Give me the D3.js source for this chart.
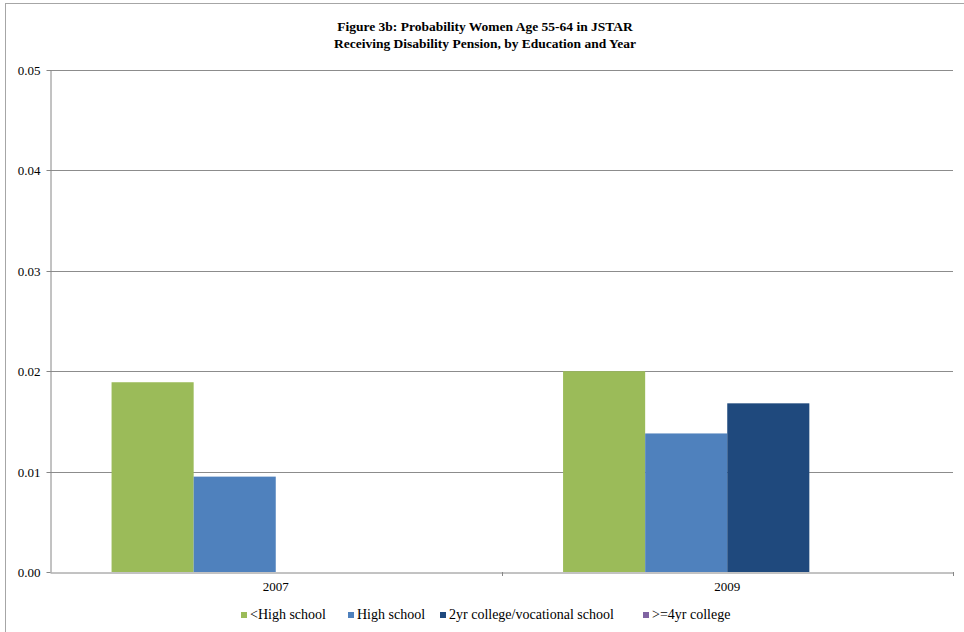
<!DOCTYPE html>
<html>
<head>
<meta charset="utf-8">
<script src="https://cdn.jsdelivr.net/npm/d3@7"></script>
<style>
  body { margin: 0; background: #fff; }
  text { font-family: "Liberation Serif", "Times New Roman", serif; fill: #000; }
</style>
</head>
<body>
<div id="chart"></div>
<script>
// data
const years = ["2007", "2009"];
const seriesNames = ["<High school", "High school", "2yr college/vocational school", ">=4yr college"];
const seriesColors = ["#9bbb59", "#4f81bd", "#1f497d", "#8064a2"];
const lessHighSchool = [0.0189, 0.0200];
const highSchool = [0.0095, 0.0138];
const twoYrCollege = [0, 0.0168];
const fourYrCollege = [0, 0];
const yTicks = [0, 0.01, 0.02, 0.03, 0.04, 0.05];

const svgWidth = 964, svgHeight = 632;
const plotLeft = 50, plotRight = 953, plotTop = 70, plotBottom = 572;

const allSeries = [lessHighSchool, highSchool, twoYrCollege, fourYrCollege];

let svg = d3.select("#chart")
    .append("svg")
    .attr("width", svgWidth)
    .attr("height", svgHeight);

// outer frame of the chart
svg.append("rect")
    .attr("x", 5.5).attr("y", 3.5)
    .attr("width", 980).attr("height", 660)
    .attr("fill", "#fff")
    .attr("stroke", "#a6a6a6");

// title
let title = svg.append("text")
    .attr("text-anchor", "middle")
    .style("font-weight", "bold")
    .style("font-size", "13.5px");
title.append("tspan").attr("x", 485).attr("y", 31).text("Figure 3b: Probability Women Age 55-64 in JSTAR");
title.append("tspan").attr("x", 485).attr("y", 48).text("Receiving Disability Pension, by Education and Year");

let y = d3.scaleLinear().domain([0, 0.05]).range([plotBottom, plotTop]);
let x0 = d3.scaleBand().domain(years).range([plotLeft, plotRight]);
// Excel style: gap width 150% -> 4 bars + 1.5 bar gap per band
let bw = x0.bandwidth();
let x1 = d3.scaleBand().domain(d3.range(seriesNames.length))
    .range([bw * 0.75 / 5.5, bw * 4.75 / 5.5]);

// gridlines
svg.append("g")
    .selectAll("line")
    .data(yTicks.slice(1))
    .enter()
    .append("line")
        .attr("x1", plotLeft).attr("x2", plotRight)
        .attr("y1", d => Math.round(y(d)) + 0.5)
        .attr("y2", d => Math.round(y(d)) + 0.5)
        .attr("stroke", "#8c8c8c");

// bars
svg.append("g")
    .selectAll("g")
    .data(allSeries)
    .enter()
    .append("g")
        .attr("fill", (d, i) => seriesColors[i])
    .each(function(values, s) {
        d3.select(this)
            .selectAll("rect")
            .data(values)
            .enter()
            .append("rect")
                .attr("x", (d, i) => x0(years[i]) + x1(s))
                .attr("width", x1.bandwidth())
                .attr("y", d => y(d))
                .attr("height", d => y(0) - y(d));
    });

// y axis
let yAxis = d3.axisLeft(y).tickValues(yTicks).tickFormat(d3.format(".2f")).tickSize(4).tickSizeOuter(0);
let gy = svg.append("g")
    .attr("transform", `translate(${plotLeft + 0.5},0)`)
    .call(yAxis);
gy.selectAll("path, line").attr("stroke", "#868686");
gy.selectAll("text").style("font-size", "13px").attr("dx", "-3").attr("fill", "#000");
gy.selectAll(".tick").attr("transform", d => `translate(0,${Math.round(y(d)) + 0.5})`);

// x axis
let xAxis = d3.axisBottom(x0).tickSize(0).tickSizeOuter(0);
let gx = svg.append("g")
    .attr("transform", `translate(0,${plotBottom + 0.5})`)
    .call(xAxis);
gx.select(".domain").attr("stroke", "#868686");
gx.selectAll("text").style("font-size", "13px").attr("dy", 15.5).attr("fill", "#000");
// category separators
svg.append("g")
    .selectAll("line")
    .data([plotLeft + bw, plotRight])
    .enter()
    .append("line")
        .attr("x1", d => Math.round(d) + 0.5).attr("x2", d => Math.round(d) + 0.5)
        .attr("y1", plotBottom).attr("y2", plotBottom + 4)
        .attr("stroke", "#868686");

// legend
const legendX = [241, 348, 440, 643];
let legend = svg.append("g")
    .selectAll("g")
    .data(seriesNames)
    .enter()
    .append("g")
        .attr("transform", (d, i) => `translate(${legendX[i]},615)`);
legend.append("rect")
    .attr("x", 0).attr("y", -3)
    .attr("width", 6).attr("height", 6)
    .attr("fill", (d, i) => seriesColors[i]);
legend.append("text")
    .attr("x", 9).attr("y", 4)
    .style("font-size", "14px")
    .text(d => d);
</script>
</body>
</html>
